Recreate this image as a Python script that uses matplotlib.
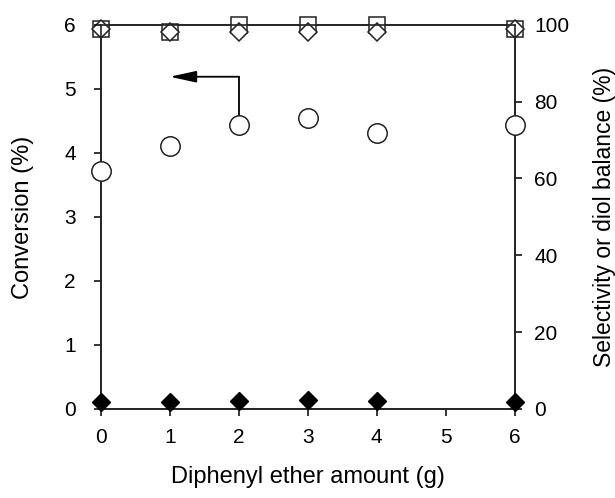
import matplotlib
matplotlib.use("Agg")
import matplotlib.pyplot as plt

plt.rcParams['font.family'] = ['Liberation Sans', 'DejaVu Sans']

# Diphenyl ether amount (g)
amount = [0, 1, 2, 3, 4, 6]
# Conversion (%), left axis
conversion = [3.72, 4.10, 4.44, 4.55, 4.31, 4.44]
# Filled diamonds, left axis
by_product = [0.10, 0.11, 0.12, 0.14, 0.12, 0.10]
# Selectivity (%), right axis (squares)
selectivity = [99.0, 98.2, 100.0, 100.0, 100.0, 99.0]
# Diol balance (%), right axis (open diamonds)
diol_balance = [99.0, 98.2, 98.2, 98.2, 98.2, 99.0]

x_ticks = [0, 1, 2, 3, 4, 5, 6]
left_ticks = [0, 1, 2, 3, 4, 5, 6]
right_ticks = [0, 20, 40, 60, 80, 100]

fig = plt.figure(figsize=(6.15, 4.98), dpi=100)
ax = fig.add_axes([0.164, 0.179, 0.673, 0.771])
ax2 = ax.twinx()

for a in (ax, ax2):
    for s in a.spines.values():
        s.set_linewidth(1.2)
        s.set_color('#222222')

ax.set_xlim(0, 6)
ax.set_ylim(0, 6)
ax2.set_ylim(0, 100)
ax.set_xticks(x_ticks)
ax.set_yticks(left_ticks)
ax2.set_yticks(right_ticks)

ax.tick_params(axis='x', direction='out', length=5, width=1.1, labelsize=15, pad=9)
ax.tick_params(axis='y', direction='out', length=5, width=1.1, labelsize=15, pad=13)
ax2.tick_params(axis='y', direction='out', length=5, width=1.1, labelsize=15, pad=9)

ax.set_xlabel('Diphenyl ether amount (g)', fontsize=17)
ax.set_ylabel('Conversion (%)', fontsize=17)
ax2.set_ylabel('Selectivity or diol balance (%)', fontsize=16.5)
ax.xaxis.set_label_coords(0.5, -0.148)
ax.yaxis.set_label_coords(-0.161, 0.5)
ax2.yaxis.set_label_coords(1.188, 0.5)

ax2.plot(amount, selectivity, linestyle='none', marker='s', markersize=12,
         markerfacecolor='white', markeredgecolor='#222222', markeredgewidth=1.1,
         clip_on=False, zorder=5)
ax2.plot(amount, diol_balance, linestyle='none', marker='D', markersize=9.5,
         markerfacecolor='white', markeredgecolor='#222222', markeredgewidth=1.1,
         clip_on=False, zorder=6)

ax.set_zorder(ax2.get_zorder() + 1)
ax.patch.set_visible(False)

ax.plot(amount, conversion, linestyle='none', marker='o', markersize=14,
        markerfacecolor='white', markeredgecolor='#222222', markeredgewidth=1.1,
        clip_on=False, zorder=5)
ax.plot(amount, by_product, linestyle='none', marker='D', markersize=9.5,
        markerfacecolor='black', markeredgecolor='black',
        clip_on=False, zorder=5)

# Arrow pointing to the conversion axis
ax.plot([2, 2], [4.58, 5.19], color='black', lw=1.3, zorder=4)
ax.annotate('', xy=(1.0, 5.19), xytext=(2.0, 5.19),
            arrowprops=dict(arrowstyle='-|>,head_length=1.6,head_width=0.35',
                            color='black', lw=1.3, shrinkA=0, shrinkB=0))

fig.savefig('out.png', dpi=100)
